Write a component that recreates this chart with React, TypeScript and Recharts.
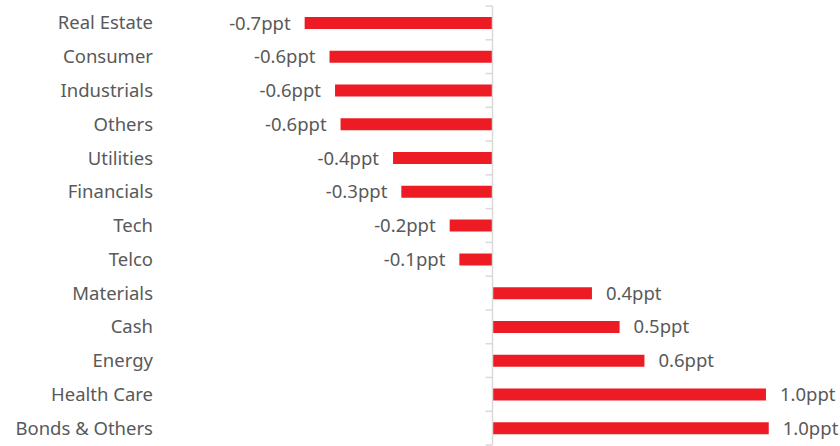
import { BarChart, Bar, XAxis, YAxis, ReferenceLine, LabelList } from "recharts";

const categories = [
    "Real Estate", "Consumer", "Industrials", "Others", "Utilities", "Financials", "Tech",
    "Telco", "Materials", "Cash", "Energy", "Health Care", "Bonds & Others",
];
const changes = [-0.68, -0.59, -0.57, -0.55, -0.36, -0.33, -0.155, -0.12, 0.36, 0.46, 0.55, 0.99, 1.0];

const data = categories.map((name, i) => ({ name, value: changes[i] }));

const RED = "#ED1C24";
const GREY_TEXT = "#595959";
const AXIS = "#D9D9D9";
const FONT = "'Noto Sans', sans-serif";

export default function App() {
    return (
        <div style={{ position: "absolute", left: 0, top: 0, background: "#fff" }}>
            <BarChart
                width={840}
                height={446}
                data={data}
                layout="vertical"
                margin={{ top: 6, right: 16, bottom: 1, left: 0 }}
                barSize={12}
            >
                <XAxis type="number" domain={[-1.2, 1.2]} hide />
                <YAxis
                    type="category"
                    dataKey="name"
                    width={161}
                    axisLine={false}
                    tickLine={false}
                    tickSize={0}
                    tickMargin={8}
                    interval={0}
                    tick={{ fill: GREY_TEXT, fontSize: 18.5, fontFamily: FONT }}
                />
                <Bar dataKey="value" fill={RED} isAnimationActive={false}>
                    <LabelList
                        dataKey="value"
                        position="right"
                        offset={14}
                        formatter={(v: any) => `${Number(v).toFixed(1)}ppt`}
                        style={{ fill: GREY_TEXT, fontSize: 18.5, fontFamily: FONT }}
                    />
                </Bar>
                <ReferenceLine x={0} stroke={AXIS} strokeWidth={1.5} />
                {categories.map((c) => (
                    <ReferenceLine
                        key={c}
                        position="start"
                        segment={[{ x: -0.025, y: c }, { x: 0, y: c }]}
                        stroke={AXIS}
                        strokeWidth={1.5}
                    />
                ))}
                <ReferenceLine
                    position="end"
                    segment={[{ x: -0.025, y: categories[categories.length - 1] }, { x: 0, y: categories[categories.length - 1] }]}
                    stroke={AXIS}
                    strokeWidth={1.5}
                />
            </BarChart>
        </div>
    );
}
